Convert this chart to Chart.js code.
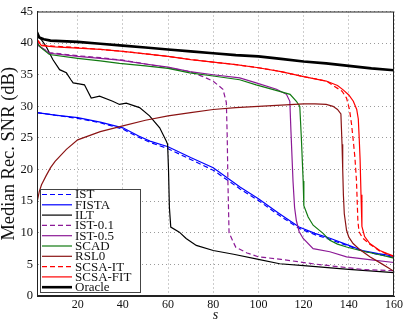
<!DOCTYPE html>
<html>
<head>
<meta charset="utf-8">
<script src="https://cdn.jsdelivr.net/npm/chart.js@4"></script>
<style>
  html, body { margin: 0; padding: 0; background: #fff; }
  #snrChart { display: block; }
</style>
</head>
<body>
<canvas id="snrChart" width="407" height="323"></canvas>
<script>
// sparsity s vs median recovered SNR (dB) as [s, dB]
const ist = [[2,29.0],[10,28.6],[20,28.1],[30,27.4],[40,26.4],[47,25.1],[52,24.3],[60,23.3],[70,21.6],[80,19.9],[92,16.9],[100,15.1],[109,12.8],[118,10.7],[125,9.7],[132,8.9],[140,7.9],[146,7.1],[153,6.6],[160,6.1]];
const fista = [[2,29.0],[10,28.6],[20,28.2],[30,27.5],[40,26.6],[47,25.3],[52,24.5],[60,23.6],[70,21.9],[80,20.3],[92,17.2],[100,15.4],[109,13.1],[118,10.9],[125,9.9],[132,9.1],[140,8.0],[146,7.2],[153,6.7],[160,6.3]];
const ilt = [[2,41.3],[4,40.5],[6,39.5],[9,37.4],[12,35.8],[15,35.3],[17,34.2],[18,33.7],[20,33.6],[23,33.4],[26,31.3],[29.7,31.6],[35.5,30.8],[38.5,30.3],[41.5,30.5],[47.4,29.8],[51.8,28.5],[56.3,26.6],[59.2,24.5],[59.8,24.0],[60.2,20],[60.6,14],[61.2,10.9],[65,10.1],[68,9.1],[72.5,8.0],[80,7.2],[89,6.6],[100,5.8],[109.4,5.1],[120,4.8],[140,4.2],[160,3.7]];
const ist01 = [[2,40.2],[3,39.5],[7.5,38.5],[20,38.0],[30,37.7],[40,37.3],[50,36.7],[60,36.1],[69.6,35.5],[75.5,34.7],[79.9,34.0],[84.3,32.7],[85.8,30.6],[86.2,25],[86.5,18],[87,10],[88.5,8.8],[90,7.7],[95,6.8],[100,6.2],[110,5.8],[124,5.1],[146,4.2],[160,4.0]];
const ist05 = [[2,40.2],[3,39.5],[7.5,38.4],[20,37.9],[30,37.6],[38.5,37.3],[50,36.7],[60,36.2],[69.6,35.5],[80,35.0],[91.7,34.5],[99,33.7],[108,32.7],[112.4,31.9],[113.9,30.8],[114.4,26],[115.3,18.2],[116,14],[116.8,11.9],[118,10.2],[119.8,9.1],[124.2,7.5],[131.6,7.0],[139,6.2],[150,5.7],[160,5.3]];
const scad = [[2,40.0],[4,39.2],[7.5,38.2],[20,37.6],[30,37.2],[38.5,36.8],[50,36.4],[60,36.0],[69.6,35.3],[80,34.8],[91.7,34.2],[99,33.4],[109,32.4],[114,31.9],[116.8,30.8],[118.3,30.0],[119,25],[119.8,18.2],[120.1,14.3],[122,12.5],[124.2,11.2],[128.6,9.9],[131.6,8.8],[135,8.2],[139,7.75],[145,7.2],[150,6.8],[155,6.4],[160,6.0]];
const rsl0 = [[2,14.8],[3,16.5],[4,17.6],[6,19.0],[8,20.3],[10,21.3],[15,23.2],[20,24.7],[30,26.0],[40,26.9],[50,27.8],[60,28.5],[70,29.0],[80,29.5],[90,29.8],[100,30.0],[110,30.2],[120,30.4],[125,30.4],[130,30.3],[133,30.0],[135,29.5],[136.5,28.8],[137,24],[137.3,20],[137.6,16],[138,13],[139,10.4],[140,9.3],[141.9,8.3],[145,7.3],[149.3,6.2],[155,5.0],[160,3.9]];
const scsaIt = [[2,40.6],[4,39.7],[10,39.5],[20,39.3],[30,39.0],[40,38.7],[50,38.3],[60,37.9],[70,37.4],[80,37.0],[90,36.6],[100,36.1],[110,35.5],[120,34.7],[130,34.0],[133,33.3],[137,32.4],[139,31.3],[140.3,29.5],[141.2,27.2],[142,24.5],[142.7,21.9],[143.4,18.2],[144,12],[144.5,10.2],[146,9.2],[149.3,8.2],[153.7,7.1],[160,6.2]];
const scsaFit = [[2,40.5],[4,39.6],[10,39.4],[20,39.2],[30,39.0],[40,38.7],[50,38.3],[60,37.9],[70,37.4],[80,37.0],[90,36.6],[100,36.1],[110,35.5],[120,34.7],[130,34.0],[135,33.3],[137.5,32.6],[140,31.8],[142,30.8],[143.5,29.5],[144.2,28.0],[144.6,25],[145,21.5],[145.4,16],[145.8,11],[147,9.4],[149.3,8.3],[153.7,7.2],[157,6.7],[160,6.3]];
const oracle = [[2,41.7],[3,40.9],[5,40.6],[8,40.4],[20,40.2],[30,39.9],[40,39.6],[50,39.3],[60,39.0],[70,38.7],[80,38.4],[90,38.1],[100,37.9],[110,37.5],[120,37.1],[130,36.8],[140,36.4],[150,36.0],[160,35.7]];

const xTicks = [20, 40, 60, 80, 100, 120, 140, 160];
const yTicks = [0, 5, 10, 15, 20, 25, 30, 35, 40, 45];

const serif = "'Liberation Serif', 'Times New Roman', serif";
const purple = "#8c1a96";

// label, data, colour, dashed?, width
const seriesDefs = [
  ["IST", ist, "#0000ff", true, 1.2],
  ["FISTA", fista, "#0000ff", false, 1.2],
  ["ILT", ilt, "#000000", false, 1.2],
  ["IST-0.1", ist01, purple, true, 1.2],
  ["IST-0.5", ist05, purple, false, 1.2],
  ["SCAD", scad, "#117a11", false, 1.2],
  ["RSL0", rsl0, "#8b1414", false, 1.2],
  ["SCSA-IT", scsaIt, "#ff0000", true, 1.2],
  ["SCSA-FIT", scsaFit, "#ff0000", false, 1.2],
  ["Oracle", oracle, "#000000", false, 2.6]
];

const datasets = seriesDefs.map(([label, pts, color, dashed, width], i) => ({
  label: label,
  data: pts.map(p => ({ x: p[0], y: p[1] })),
  borderColor: color,
  backgroundColor: color,
  borderWidth: width,
  borderDash: dashed ? [5, 3] : [],
  pointRadius: 0,
  tension: 0,
  fill: false,
  order: seriesDefs.length - i   // later series drawn on top, like the original
}));

// box around the plot + legend inside the lower-left corner
const framePlugin = {
  id: "frameAndLegend",
  afterDatasetsDraw(chart) {
    const { ctx, chartArea: a } = chart;
    ctx.save();
    ctx.strokeStyle = "#222";
    ctx.lineWidth = 1;
    ctx.strokeRect(a.left + 0.5, a.top + 0.5, a.right - a.left - 1, a.bottom - a.top - 1);

    // legend box
    const bx = 40, by = 189, bw = 100, bh = 103, rowH = 10.3;
    ctx.fillStyle = "#fff";
    ctx.fillRect(bx, by, bw, bh);
    ctx.strokeStyle = "#444";
    ctx.strokeRect(bx + 0.5, by + 0.5, bw, bh);
    ctx.font = "13px " + serif;
    ctx.textBaseline = "middle";
    ctx.textAlign = "left";
    chart.data.datasets.forEach((ds, i) => {
      const y = by + 5.5 + i * rowH;
      ctx.beginPath();
      ctx.strokeStyle = ds.borderColor;
      ctx.lineWidth = ds.borderWidth;
      ctx.setLineDash(ds.borderDash);
      ctx.moveTo(bx + 2, y);
      ctx.lineTo(bx + 32, y);
      ctx.stroke();
      ctx.setLineDash([]);
      ctx.fillStyle = "#111";
      ctx.fillText(ds.label, bx + 35, y + 0.5);
    });
    ctx.restore();
  }
};

const ctx = document.getElementById("snrChart").getContext("2d");
new Chart(ctx, {
  type: "line",
  data: { datasets },
  plugins: [framePlugin],
  options: {
    responsive: false,
    animation: false,
    devicePixelRatio: 1,
    layout: { padding: { top: 10, right: 13, left: 0, bottom: 0 } },
    plugins: { legend: { display: false }, tooltip: { enabled: false } },
    scales: {
      x: {
        type: "linear",
        min: 2,
        max: 160,
        afterFit: s => { s.height = 27; },
        afterBuildTicks: s => { s.ticks = xTicks.map(v => ({ value: v })); },
        ticks: { color: "#111", padding: 2, font: { family: serif, size: 12 } },
        grid: { color: "#9a9a9a", lineWidth: 1, drawTicks: false },
        border: { display: true, color: "#222", dash: [1, 3] },
        title: { display: true, text: "s", color: "#111", padding: { top: 0, bottom: 1 },
                 font: { family: serif, size: 14, style: "italic", lineHeight: 1 } }
      },
      y: {
        type: "linear",
        min: 0,
        max: 45,
        afterFit: s => { s.width = 37; },
        afterBuildTicks: s => { s.ticks = yTicks.map(v => ({ value: v })); },
        ticks: { color: "#111", padding: 4, font: { family: serif, size: 12.5 } },
        grid: { color: "#9a9a9a", lineWidth: 1, drawTicks: false },
        border: { display: true, color: "#222", dash: [1, 3] },
        title: { display: true, text: "Median Rec. SNR (dB)", color: "#111", padding: 0,
                 font: { family: serif, size: 18.5, lineHeight: 1 } }
      }
    }
  }
});
</script>
</body>
</html>
